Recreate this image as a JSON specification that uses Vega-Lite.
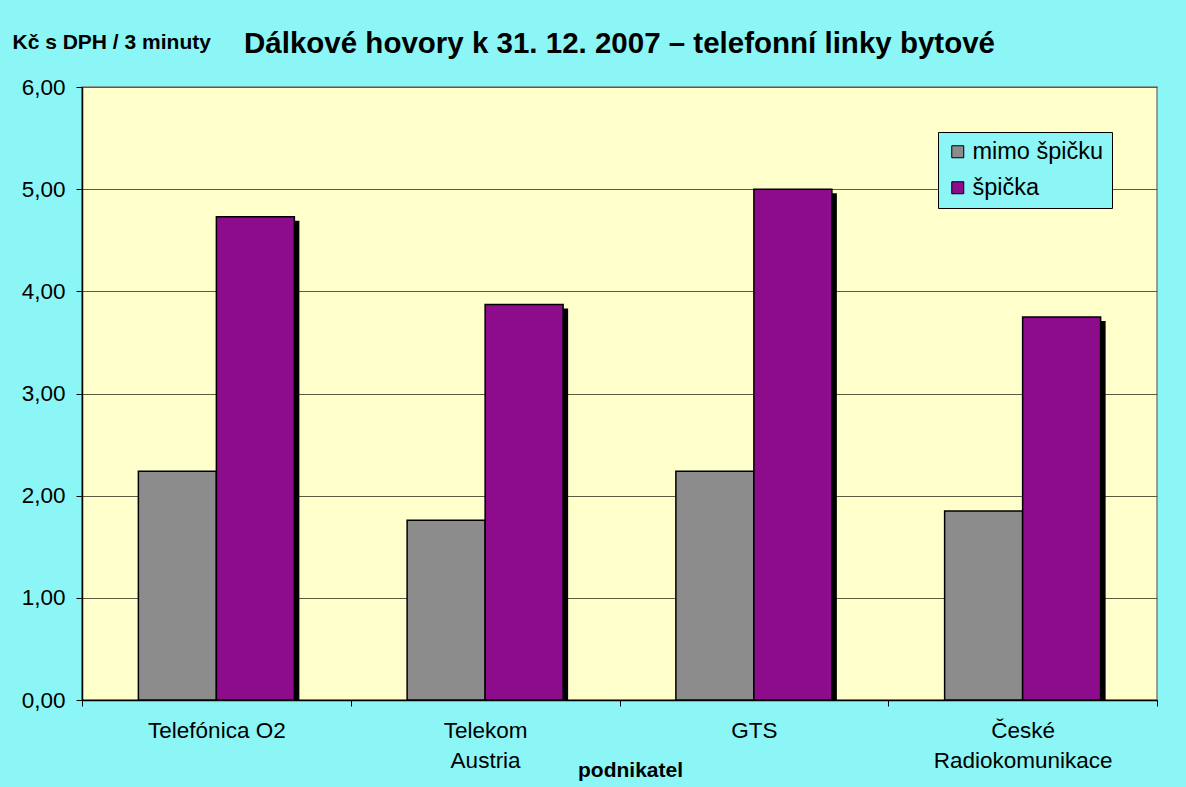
{
  "$schema": "https://vega.github.io/schema/vega-lite/v6.json",
  "autosize": "none",
  "width": 1075,
  "height": 613,
  "padding": {"left": 82, "top": 87, "right": 29, "bottom": 87},
  "background": "#8CF6F6",
  "title": {
    "text": "Dálkové hovory k 31. 12. 2007 – telefonní linky bytové",
    "font": "Liberation Sans",
    "fontSize": 29.5,
    "fontWeight": "bold",
    "color": "#000000",
    "anchor": "middle",
    "frame": "group",
    "offset": -28
  },
  "config": {
    "font": "Liberation Sans",
    "view": {"fill": "#FFFFCC", "stroke": "#808080", "strokeWidth": 1.5}
  },
  "data": {
    "values": [
      {"podnikatel": "Telefónica O2", "typ": "mimo špičku", "cena": 2.24},
      {"podnikatel": "Telefónica O2", "typ": "špička", "cena": 4.73},
      {"podnikatel": "Telekom Austria", "typ": "mimo špičku", "cena": 1.76},
      {"podnikatel": "Telekom Austria", "typ": "špička", "cena": 3.87},
      {"podnikatel": "GTS", "typ": "mimo špičku", "cena": 2.24},
      {"podnikatel": "GTS", "typ": "špička", "cena": 5.0},
      {"podnikatel": "České Radiokomunikace", "typ": "mimo špičku", "cena": 1.85},
      {"podnikatel": "České Radiokomunikace", "typ": "špička", "cena": 3.75}
    ]
  },
  "encoding": {
    "x": {
      "field": "podnikatel",
      "type": "nominal",
      "sort": null,
      "scale": {"paddingInner": 0, "paddingOuter": 0},
      "axis": {
        "title": "podnikatel",
        "titleFont": "Liberation Sans",
        "titleFontSize": 21,
        "titleFontWeight": "bold",
        "titleColor": "#000000",
        "titleBaseline": "middle",
        "titleY": 70,
        "titleX": 548,
        "labelAngle": 0,
        "labelFontSize": 22.5,
        "labelColor": "#000000",
        "labelPadding": 24,
        "labelLineHeight": 30,
        "labelBaseline": "middle",
        "labelExpr": "datum.value == 'Telekom Austria' ? ['Telekom', 'Austria'] : datum.value == 'České Radiokomunikace' ? ['České', 'Radiokomunikace'] : datum.value",
        "domainColor": "#000000",
        "domainWidth": 1.5,
        "tickColor": "#000000",
        "tickSize": 6,
        "tickBand": "extent",
        "grid": false
      }
    },
    "y": {
      "field": "cena",
      "type": "quantitative",
      "scale": {"domain": [0, 6], "nice": false},
      "axis": {
        "title": "Kč s DPH / 3 minuty",
        "titleAngle": 0,
        "titleX": -70,
        "titleY": -45,
        "titleAlign": "left",
        "titleBaseline": "middle",
        "titleFontSize": 21,
        "titleFontWeight": "bold",
        "titleColor": "#000000",
        "values": [0, 1, 2, 3, 4, 5, 6],
        "format": ".2f",
        "labelExpr": "replace(datum.label, '.', ',')",
        "labelFontSize": 22.5,
        "labelColor": "#000000",
        "labelPadding": 11,
        "domainColor": "#000000",
        "domainWidth": 1.5,
        "tickColor": "#000000",
        "tickSize": 6,
        "gridColor": "#5C5C40",
        "gridWidth": 1
      }
    }
  },
  "layer": [
    {
      "transform": [{"filter": "datum.typ == 'špička'"}],
      "mark": {"type": "bar", "color": "#000000", "width": 78, "xOffset": 44, "yOffset": 4, "clip": true}
    },
    {
      "transform": [{"filter": "datum.typ == 'mimo špičku'"}],
      "mark": {"type": "bar", "width": 78, "xOffset": -39, "stroke": "#000000", "strokeWidth": 1.5},
      "encoding": {
        "color": {
          "field": "typ",
          "type": "nominal",
          "scale": {"domain": ["mimo špičku", "špička"], "range": ["#8C8C8C", "#8C0C8C"]},
          "legend": {
            "title": null,
            "orient": "none",
            "legendX": 856,
            "legendY": 45,
            "direction": "vertical",
            "fillColor": "#8CF6F6",
            "strokeColor": "#000000",
            "padding": 8,
            "symbolType": "square",
            "symbolSize": 144,
            "symbolStrokeColor": "#000000",
            "symbolStrokeWidth": 1,
            "symbolOpacity": 1,
            "labelFontSize": 23.5,
            "labelColor": "#000000",
            "labelFont": "Liberation Sans",
            "rowPadding": 11,
            "labelOffset": 3,
            "labelLimit": 300
          }
        }
      }
    },
    {
      "transform": [{"filter": "datum.typ == 'špička'"}],
      "mark": {"type": "bar", "width": 78, "xOffset": 39, "stroke": "#000000", "strokeWidth": 1.5},
      "encoding": {
        "color": {
          "field": "typ",
          "type": "nominal",
          "scale": {"domain": ["mimo špičku", "špička"], "range": ["#8C8C8C", "#8C0C8C"]}
        }
      }
    }
  ]
}
